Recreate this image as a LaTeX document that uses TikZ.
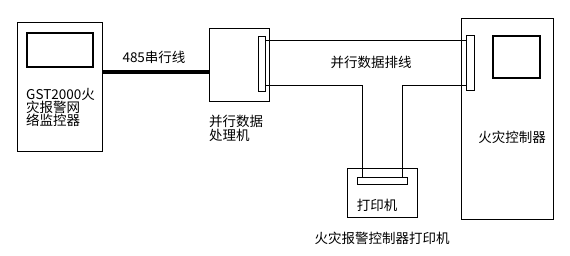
\documentclass[tikz,border=0pt]{standalone}
\usepackage{fontspec}
\setmainfont{Noto Sans CJK SC}
\begin{document}
\begin{tikzpicture}[x=1pt,y=-1pt,
  box/.style={draw,line width=1pt,inner sep=0pt,outer sep=0pt,anchor=north west},
  screen/.style={draw,line width=2.4pt,inner sep=0pt,outer sep=0pt,anchor=north west},
  plate/.style={draw,line width=1pt,fill=white,inner sep=0pt,outer sep=0pt,anchor=north west},
  txt/.style={inner sep=0pt,font=\fontsize{13.5}{14}\selectfont,align=left},
  bus/.style={line width=1pt}]
\useasboundingbox (0,0) rectangle (570,256);
% left monitor
\node[box,minimum width=85pt,minimum height=129pt] (mon) at (17,23) {};
\node[screen,minimum width=66pt,minimum height=34pt] (monscr) at (27,33) {};
\node[txt,anchor=north west] (montxt) at (26,88) {GST2000火\\[-1pt]灾报警网\\[-1pt]络监控器};
% parallel processor
\node[box,minimum width=60pt,minimum height=73pt] (proc) at (209,29) {};
\node[plate,minimum width=7pt,minimum height=55pt] (pl1) at (258,37) {};
\node[txt,anchor=north west] (proctxt) at (209,115) {并行数据\\[0pt]处理机};
% serial line
\draw[line width=4pt] (mon.east |- 0,72) -- (proc.west |- 0,72);
\node[txt] (serlbl) at (154,57) {485串行线};
% fire controller
\node[box,minimum width=92pt,minimum height=201pt] (ctl) at (461,19) {};
\node[screen,minimum width=47pt,minimum height=42pt] (ctlscr) at (493,36) {};
\node[plate,minimum width=8pt,minimum height=55pt] (pl2) at (466,36) {};
\node[txt] (ctltxt) at (512,137) {火灾控制器};
% printer
\node[box,minimum width=70pt,minimum height=49pt] (prn) at (347,169) {};
\node[plate,minimum width=50pt,minimum height=7pt] (pl3) at (357,178) {};
\node[txt] (prntxt) at (377,205) {打印机};
\node[txt] (prnlbl) at (382,238) {火灾报警控制器打印机};
% bus cable
\coordinate (b1) at (362,86);
\coordinate (b2) at (402,86);
\draw[bus] (pl1.east |- 0,41) -- (pl2.west |- 0,41);
\draw[bus] (pl1.east |- 0,86) -- (b1) -- (b1 |- pl3.north);
\draw[bus] (pl2.west |- 0,86) -- (b2) -- (b2 |- pl3.north);
\node[txt] (buslbl) at (371,62) {并行数据排线};
\end{tikzpicture}
\end{document}
